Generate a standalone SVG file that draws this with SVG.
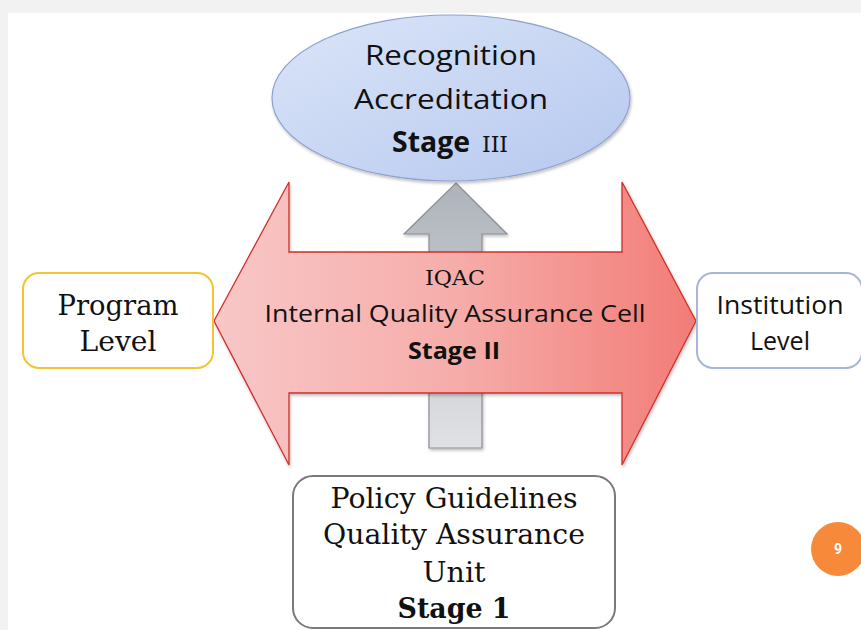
<svg xmlns="http://www.w3.org/2000/svg" width="861" height="630" viewBox="0 0 861 630">
<defs>
<linearGradient id="gEll" x1="0" y1="0" x2="1" y2="1">
<stop offset="0" stop-color="#dbe5f8"/><stop offset="1" stop-color="#b6c8ef"/>
</linearGradient>
<linearGradient id="gRed" x1="0" y1="0" x2="1" y2="0">
<stop offset="0" stop-color="#f8c7c7"/><stop offset="0.5" stop-color="#f6adaa"/><stop offset="1" stop-color="#f27c77"/>
</linearGradient>
<linearGradient id="gGray" x1="0" y1="0" x2="0" y2="1">
<stop offset="0" stop-color="#aeb3bb"/><stop offset="1" stop-color="#e0e1e4"/>
</linearGradient>
<filter id="sh" x="-10%" y="-10%" width="120%" height="130%">
<feDropShadow dx="1" dy="2" stdDeviation="1.5" flood-color="#000" flood-opacity="0.25"/>
</filter>
<style>
.serif{font-family:"DejaVu Serif","Liberation Serif",serif;fill:#111}
.sans{font-family:"Open Sans","Liberation Sans",sans-serif;fill:#111}
.box{fill:#fff;stroke-width:2}
</style>
</defs>
<rect x="0" y="0" width="861" height="630" fill="#f2f2f2"/>
<rect x="8" y="13" width="853" height="617" fill="#fff"/>
<g id="connectors">
<path id="up-arrow" d="M429,448 L429,234 L404,234 L456,183 L507,234 L482,234 L482,448 Z" fill="url(#gGray)" stroke="#8a8d92" stroke-width="1.2" filter="url(#sh)"/>
</g>
<g id="iqac">
<path d="M214,321 L289,182 L289,252 L622,252 L622,182 L696,321 L622,465 L622,393 L289,393 L289,465 Z" fill="url(#gRed)" stroke="#d0302a" stroke-width="1.3" filter="url(#sh)"/>
<text x="455" y="285" text-anchor="middle" class="serif" font-size="21" textLength="60" lengthAdjust="spacingAndGlyphs">IQAC</text>
<text x="455" y="322" text-anchor="middle" class="sans" font-size="23" textLength="381" lengthAdjust="spacingAndGlyphs">Internal Quality Assurance Cell</text>
<text x="454" y="359" text-anchor="middle" class="sans" font-size="24" font-weight="bold" textLength="92" lengthAdjust="spacingAndGlyphs">Stage II</text>
</g>
<g id="stage3">
<ellipse cx="451" cy="98" rx="179" ry="83" fill="url(#gEll)" stroke="#8ea2cf" stroke-width="1.2" filter="url(#sh)"/>
<text x="451" y="65" text-anchor="middle" class="sans" font-size="28" textLength="172" lengthAdjust="spacingAndGlyphs">Recognition</text>
<text x="451" y="109" text-anchor="middle" class="sans" font-size="28" textLength="194" lengthAdjust="spacingAndGlyphs">Accreditation</text>
<text x="431" y="152" text-anchor="middle" class="sans" font-size="28" font-weight="bold" textLength="78" lengthAdjust="spacingAndGlyphs">Stage</text>
<text x="495" y="152" text-anchor="middle" class="serif" font-size="22" textLength="26" lengthAdjust="spacingAndGlyphs">III</text>
</g>
<g id="program">
<rect x="23" y="273" width="190" height="95" rx="16" class="box" stroke="#f4c430"/>
<text x="118" y="315" text-anchor="middle" class="serif" font-size="28" textLength="121" lengthAdjust="spacingAndGlyphs">Program</text>
<text x="118" y="351" text-anchor="middle" class="serif" font-size="28" textLength="77" lengthAdjust="spacingAndGlyphs">Level</text>
</g>
<g id="institution">
<rect x="697" y="273" width="165" height="95" rx="16" class="box" stroke="#a7b6d8"/>
<text x="780" y="314" text-anchor="middle" class="sans" font-size="26" textLength="127" lengthAdjust="spacingAndGlyphs">Institution</text>
<text x="780" y="350" text-anchor="middle" class="sans" font-size="26" textLength="60" lengthAdjust="spacingAndGlyphs">Level</text>
</g>
<g id="stage1">
<rect x="293" y="476" width="322" height="152" rx="20" class="box" stroke="#7a7a7a"/>
<text x="454" y="508" text-anchor="middle" class="serif" font-size="28" textLength="247" lengthAdjust="spacingAndGlyphs">Policy Guidelines</text>
<text x="454" y="544" text-anchor="middle" class="serif" font-size="28" textLength="262" lengthAdjust="spacingAndGlyphs">Quality Assurance</text>
<text x="454" y="582" text-anchor="middle" class="serif" font-size="28" textLength="63" lengthAdjust="spacingAndGlyphs">Unit</text>
<text x="454" y="618" text-anchor="middle" class="serif" font-size="28" font-weight="bold" textLength="113" lengthAdjust="spacingAndGlyphs">Stage 1</text>
</g>
<g id="page">
<circle cx="838" cy="549" r="27" fill="#f7893a"/>
<text x="838" y="554" text-anchor="middle" font-family="Roboto,'Liberation Sans',sans-serif" font-size="14" font-weight="bold" fill="#fff">9</text>
</g>
</svg>
